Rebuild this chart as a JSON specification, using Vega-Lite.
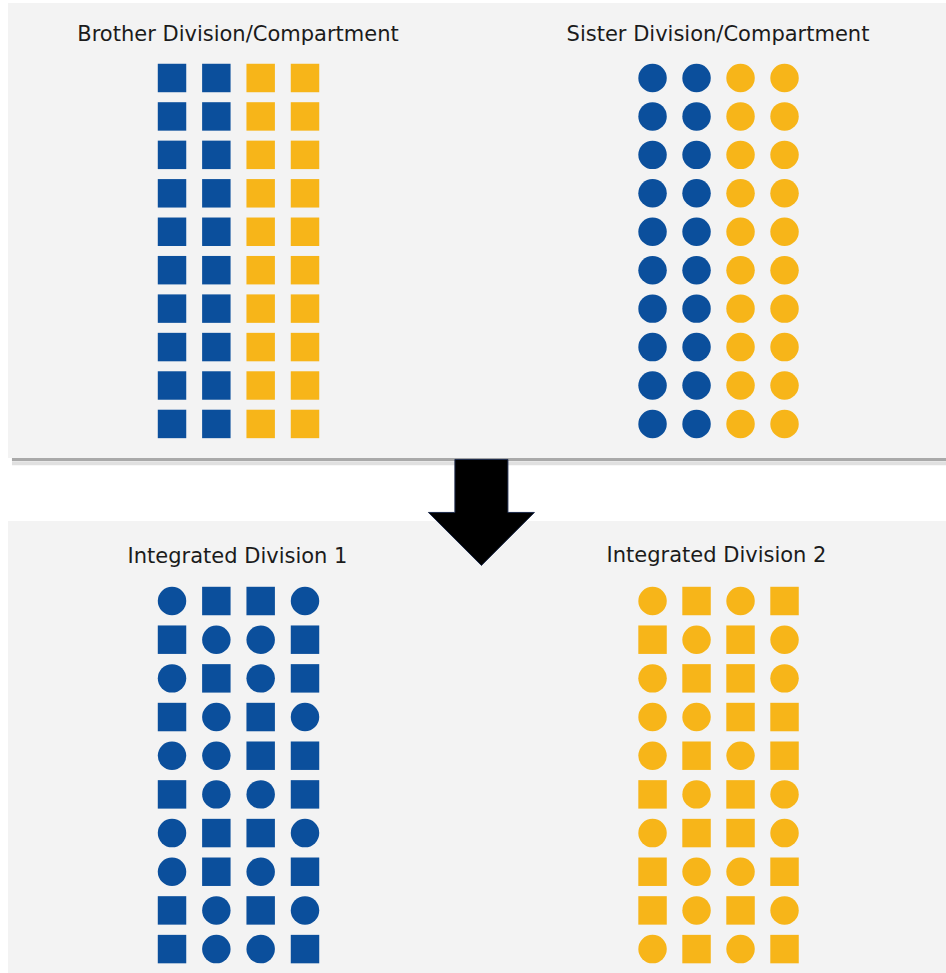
{
  "$schema": "https://vega.github.io/schema/vega-lite/v6.json",
  "background": "white",
  "padding": {"left": 8, "top": 3, "right": 0, "bottom": 0},
  "config": {
    "view": {"stroke": null, "fill": "#f3f3f3"},
    "concat": {"spacing": 0},
    "title": {"font": "DejaVu Sans", "fontSize": 21, "fontWeight": "normal", "color": "#1b1b1b", "anchor": "middle", "frame": "group"}
  },
  "datasets": {
    "grid": [
      {"panel":"B","row":1,"col":1,"shape":"square","color":"blue"},{"panel":"B","row":1,"col":2,"shape":"square","color":"blue"},{"panel":"B","row":1,"col":3,"shape":"square","color":"yellow"},{"panel":"B","row":1,"col":4,"shape":"square","color":"yellow"},
      {"panel":"B","row":2,"col":1,"shape":"square","color":"blue"},{"panel":"B","row":2,"col":2,"shape":"square","color":"blue"},{"panel":"B","row":2,"col":3,"shape":"square","color":"yellow"},{"panel":"B","row":2,"col":4,"shape":"square","color":"yellow"},
      {"panel":"B","row":3,"col":1,"shape":"square","color":"blue"},{"panel":"B","row":3,"col":2,"shape":"square","color":"blue"},{"panel":"B","row":3,"col":3,"shape":"square","color":"yellow"},{"panel":"B","row":3,"col":4,"shape":"square","color":"yellow"},
      {"panel":"B","row":4,"col":1,"shape":"square","color":"blue"},{"panel":"B","row":4,"col":2,"shape":"square","color":"blue"},{"panel":"B","row":4,"col":3,"shape":"square","color":"yellow"},{"panel":"B","row":4,"col":4,"shape":"square","color":"yellow"},
      {"panel":"B","row":5,"col":1,"shape":"square","color":"blue"},{"panel":"B","row":5,"col":2,"shape":"square","color":"blue"},{"panel":"B","row":5,"col":3,"shape":"square","color":"yellow"},{"panel":"B","row":5,"col":4,"shape":"square","color":"yellow"},
      {"panel":"B","row":6,"col":1,"shape":"square","color":"blue"},{"panel":"B","row":6,"col":2,"shape":"square","color":"blue"},{"panel":"B","row":6,"col":3,"shape":"square","color":"yellow"},{"panel":"B","row":6,"col":4,"shape":"square","color":"yellow"},
      {"panel":"B","row":7,"col":1,"shape":"square","color":"blue"},{"panel":"B","row":7,"col":2,"shape":"square","color":"blue"},{"panel":"B","row":7,"col":3,"shape":"square","color":"yellow"},{"panel":"B","row":7,"col":4,"shape":"square","color":"yellow"},
      {"panel":"B","row":8,"col":1,"shape":"square","color":"blue"},{"panel":"B","row":8,"col":2,"shape":"square","color":"blue"},{"panel":"B","row":8,"col":3,"shape":"square","color":"yellow"},{"panel":"B","row":8,"col":4,"shape":"square","color":"yellow"},
      {"panel":"B","row":9,"col":1,"shape":"square","color":"blue"},{"panel":"B","row":9,"col":2,"shape":"square","color":"blue"},{"panel":"B","row":9,"col":3,"shape":"square","color":"yellow"},{"panel":"B","row":9,"col":4,"shape":"square","color":"yellow"},
      {"panel":"B","row":10,"col":1,"shape":"square","color":"blue"},{"panel":"B","row":10,"col":2,"shape":"square","color":"blue"},{"panel":"B","row":10,"col":3,"shape":"square","color":"yellow"},{"panel":"B","row":10,"col":4,"shape":"square","color":"yellow"},

      {"panel":"S","row":1,"col":1,"shape":"circle","color":"blue"},{"panel":"S","row":1,"col":2,"shape":"circle","color":"blue"},{"panel":"S","row":1,"col":3,"shape":"circle","color":"yellow"},{"panel":"S","row":1,"col":4,"shape":"circle","color":"yellow"},
      {"panel":"S","row":2,"col":1,"shape":"circle","color":"blue"},{"panel":"S","row":2,"col":2,"shape":"circle","color":"blue"},{"panel":"S","row":2,"col":3,"shape":"circle","color":"yellow"},{"panel":"S","row":2,"col":4,"shape":"circle","color":"yellow"},
      {"panel":"S","row":3,"col":1,"shape":"circle","color":"blue"},{"panel":"S","row":3,"col":2,"shape":"circle","color":"blue"},{"panel":"S","row":3,"col":3,"shape":"circle","color":"yellow"},{"panel":"S","row":3,"col":4,"shape":"circle","color":"yellow"},
      {"panel":"S","row":4,"col":1,"shape":"circle","color":"blue"},{"panel":"S","row":4,"col":2,"shape":"circle","color":"blue"},{"panel":"S","row":4,"col":3,"shape":"circle","color":"yellow"},{"panel":"S","row":4,"col":4,"shape":"circle","color":"yellow"},
      {"panel":"S","row":5,"col":1,"shape":"circle","color":"blue"},{"panel":"S","row":5,"col":2,"shape":"circle","color":"blue"},{"panel":"S","row":5,"col":3,"shape":"circle","color":"yellow"},{"panel":"S","row":5,"col":4,"shape":"circle","color":"yellow"},
      {"panel":"S","row":6,"col":1,"shape":"circle","color":"blue"},{"panel":"S","row":6,"col":2,"shape":"circle","color":"blue"},{"panel":"S","row":6,"col":3,"shape":"circle","color":"yellow"},{"panel":"S","row":6,"col":4,"shape":"circle","color":"yellow"},
      {"panel":"S","row":7,"col":1,"shape":"circle","color":"blue"},{"panel":"S","row":7,"col":2,"shape":"circle","color":"blue"},{"panel":"S","row":7,"col":3,"shape":"circle","color":"yellow"},{"panel":"S","row":7,"col":4,"shape":"circle","color":"yellow"},
      {"panel":"S","row":8,"col":1,"shape":"circle","color":"blue"},{"panel":"S","row":8,"col":2,"shape":"circle","color":"blue"},{"panel":"S","row":8,"col":3,"shape":"circle","color":"yellow"},{"panel":"S","row":8,"col":4,"shape":"circle","color":"yellow"},
      {"panel":"S","row":9,"col":1,"shape":"circle","color":"blue"},{"panel":"S","row":9,"col":2,"shape":"circle","color":"blue"},{"panel":"S","row":9,"col":3,"shape":"circle","color":"yellow"},{"panel":"S","row":9,"col":4,"shape":"circle","color":"yellow"},
      {"panel":"S","row":10,"col":1,"shape":"circle","color":"blue"},{"panel":"S","row":10,"col":2,"shape":"circle","color":"blue"},{"panel":"S","row":10,"col":3,"shape":"circle","color":"yellow"},{"panel":"S","row":10,"col":4,"shape":"circle","color":"yellow"},

      {"panel":"I1","row":1,"col":1,"shape":"circle","color":"blue"},{"panel":"I1","row":1,"col":2,"shape":"square","color":"blue"},{"panel":"I1","row":1,"col":3,"shape":"square","color":"blue"},{"panel":"I1","row":1,"col":4,"shape":"circle","color":"blue"},
      {"panel":"I1","row":2,"col":1,"shape":"square","color":"blue"},{"panel":"I1","row":2,"col":2,"shape":"circle","color":"blue"},{"panel":"I1","row":2,"col":3,"shape":"circle","color":"blue"},{"panel":"I1","row":2,"col":4,"shape":"square","color":"blue"},
      {"panel":"I1","row":3,"col":1,"shape":"circle","color":"blue"},{"panel":"I1","row":3,"col":2,"shape":"square","color":"blue"},{"panel":"I1","row":3,"col":3,"shape":"circle","color":"blue"},{"panel":"I1","row":3,"col":4,"shape":"square","color":"blue"},
      {"panel":"I1","row":4,"col":1,"shape":"square","color":"blue"},{"panel":"I1","row":4,"col":2,"shape":"circle","color":"blue"},{"panel":"I1","row":4,"col":3,"shape":"square","color":"blue"},{"panel":"I1","row":4,"col":4,"shape":"circle","color":"blue"},
      {"panel":"I1","row":5,"col":1,"shape":"circle","color":"blue"},{"panel":"I1","row":5,"col":2,"shape":"circle","color":"blue"},{"panel":"I1","row":5,"col":3,"shape":"square","color":"blue"},{"panel":"I1","row":5,"col":4,"shape":"square","color":"blue"},
      {"panel":"I1","row":6,"col":1,"shape":"square","color":"blue"},{"panel":"I1","row":6,"col":2,"shape":"circle","color":"blue"},{"panel":"I1","row":6,"col":3,"shape":"circle","color":"blue"},{"panel":"I1","row":6,"col":4,"shape":"square","color":"blue"},
      {"panel":"I1","row":7,"col":1,"shape":"circle","color":"blue"},{"panel":"I1","row":7,"col":2,"shape":"square","color":"blue"},{"panel":"I1","row":7,"col":3,"shape":"square","color":"blue"},{"panel":"I1","row":7,"col":4,"shape":"circle","color":"blue"},
      {"panel":"I1","row":8,"col":1,"shape":"circle","color":"blue"},{"panel":"I1","row":8,"col":2,"shape":"square","color":"blue"},{"panel":"I1","row":8,"col":3,"shape":"circle","color":"blue"},{"panel":"I1","row":8,"col":4,"shape":"square","color":"blue"},
      {"panel":"I1","row":9,"col":1,"shape":"square","color":"blue"},{"panel":"I1","row":9,"col":2,"shape":"circle","color":"blue"},{"panel":"I1","row":9,"col":3,"shape":"square","color":"blue"},{"panel":"I1","row":9,"col":4,"shape":"circle","color":"blue"},
      {"panel":"I1","row":10,"col":1,"shape":"square","color":"blue"},{"panel":"I1","row":10,"col":2,"shape":"circle","color":"blue"},{"panel":"I1","row":10,"col":3,"shape":"circle","color":"blue"},{"panel":"I1","row":10,"col":4,"shape":"square","color":"blue"},

      {"panel":"I2","row":1,"col":1,"shape":"circle","color":"yellow"},{"panel":"I2","row":1,"col":2,"shape":"square","color":"yellow"},{"panel":"I2","row":1,"col":3,"shape":"circle","color":"yellow"},{"panel":"I2","row":1,"col":4,"shape":"square","color":"yellow"},
      {"panel":"I2","row":2,"col":1,"shape":"square","color":"yellow"},{"panel":"I2","row":2,"col":2,"shape":"circle","color":"yellow"},{"panel":"I2","row":2,"col":3,"shape":"square","color":"yellow"},{"panel":"I2","row":2,"col":4,"shape":"circle","color":"yellow"},
      {"panel":"I2","row":3,"col":1,"shape":"circle","color":"yellow"},{"panel":"I2","row":3,"col":2,"shape":"square","color":"yellow"},{"panel":"I2","row":3,"col":3,"shape":"square","color":"yellow"},{"panel":"I2","row":3,"col":4,"shape":"circle","color":"yellow"},
      {"panel":"I2","row":4,"col":1,"shape":"circle","color":"yellow"},{"panel":"I2","row":4,"col":2,"shape":"circle","color":"yellow"},{"panel":"I2","row":4,"col":3,"shape":"square","color":"yellow"},{"panel":"I2","row":4,"col":4,"shape":"square","color":"yellow"},
      {"panel":"I2","row":5,"col":1,"shape":"circle","color":"yellow"},{"panel":"I2","row":5,"col":2,"shape":"square","color":"yellow"},{"panel":"I2","row":5,"col":3,"shape":"circle","color":"yellow"},{"panel":"I2","row":5,"col":4,"shape":"square","color":"yellow"},
      {"panel":"I2","row":6,"col":1,"shape":"square","color":"yellow"},{"panel":"I2","row":6,"col":2,"shape":"circle","color":"yellow"},{"panel":"I2","row":6,"col":3,"shape":"square","color":"yellow"},{"panel":"I2","row":6,"col":4,"shape":"circle","color":"yellow"},
      {"panel":"I2","row":7,"col":1,"shape":"circle","color":"yellow"},{"panel":"I2","row":7,"col":2,"shape":"square","color":"yellow"},{"panel":"I2","row":7,"col":3,"shape":"square","color":"yellow"},{"panel":"I2","row":7,"col":4,"shape":"circle","color":"yellow"},
      {"panel":"I2","row":8,"col":1,"shape":"square","color":"yellow"},{"panel":"I2","row":8,"col":2,"shape":"circle","color":"yellow"},{"panel":"I2","row":8,"col":3,"shape":"circle","color":"yellow"},{"panel":"I2","row":8,"col":4,"shape":"square","color":"yellow"},
      {"panel":"I2","row":9,"col":1,"shape":"square","color":"yellow"},{"panel":"I2","row":9,"col":2,"shape":"circle","color":"yellow"},{"panel":"I2","row":9,"col":3,"shape":"square","color":"yellow"},{"panel":"I2","row":9,"col":4,"shape":"circle","color":"yellow"},
      {"panel":"I2","row":10,"col":1,"shape":"circle","color":"yellow"},{"panel":"I2","row":10,"col":2,"shape":"square","color":"yellow"},{"panel":"I2","row":10,"col":3,"shape":"circle","color":"yellow"},{"panel":"I2","row":10,"col":4,"shape":"square","color":"yellow"}
    ]
  },
  "vconcat": [
    {
      "hconcat": [
        {
          "width": 469, "height": 455,
          "title": {"text": "Brother Division/Compartment", "offset": -42, "dx": -4.5},
          "data": {"name": "grid"},
          "transform": [{"filter": "datum.panel === 'B'"}],
          "mark": {"type": "point", "filled": true, "opacity": 1, "size": 810},
          "encoding": {
            "x": {"field": "col", "type": "quantitative", "scale": {"domain": [-2.7, 7.88], "nice": false, "zero": false}, "axis": null},
            "y": {"field": "row", "type": "quantitative", "scale": {"domain": [-0.951, 10.886], "reverse": true, "nice": false, "zero": false}, "axis": null},
            "shape": {"field": "shape", "type": "nominal", "scale": {"domain": ["circle", "square"], "range": ["circle", "square"]}, "legend": null},
            "color": {"field": "color", "type": "nominal", "scale": {"domain": ["blue", "yellow"], "range": ["#0b4f9c", "#f7b519"]}, "legend": null}
          }
        },
        {
          "width": 469, "height": 455,
          "title": {"text": "Sister Division/Compartment", "offset": -42, "dx": 6.5},
          "data": {"name": "grid"},
          "transform": [{"filter": "datum.panel === 'S'"}],
          "mark": {"type": "point", "filled": true, "opacity": 1, "size": 810},
          "encoding": {
            "x": {"field": "col", "type": "quantitative", "scale": {"domain": [-2.99, 7.67], "nice": false, "zero": false}, "axis": null},
            "y": {"field": "row", "type": "quantitative", "scale": {"domain": [-0.951, 10.886], "reverse": true, "nice": false, "zero": false}, "axis": null},
            "shape": {"field": "shape", "type": "nominal", "scale": {"domain": ["circle", "square"], "range": ["circle", "square"]}, "legend": null},
            "color": {"field": "color", "type": "nominal", "scale": {"domain": ["blue", "yellow"], "range": ["#0b4f9c", "#f7b519"]}, "legend": null}
          }
        }
      ],
      "bounds": "flush",
      "resolve": {"scale": {"x": "independent", "y": "independent"}}
    },
    {
      "hconcat": [
        {
          "width": 469, "height": 454,
          "title": {"text": "Integrated Division 1", "offset": -46, "dx": -5},
          "data": {"name": "grid"},
          "transform": [{"filter": "datum.panel === 'I1'"}],
          "mark": {"type": "point", "filled": true, "opacity": 1, "size": 810},
          "encoding": {
            "x": {"field": "col", "type": "quantitative", "scale": {"domain": [-2.7, 7.88], "nice": false, "zero": false}, "axis": null},
            "y": {"field": "row", "type": "quantitative", "scale": {"domain": [-1.069, 10.67], "reverse": true, "nice": false, "zero": false}, "axis": null},
            "shape": {"field": "shape", "type": "nominal", "scale": {"domain": ["circle", "square"], "range": ["circle", "square"]}, "legend": null},
            "color": {"field": "color", "type": "nominal", "scale": {"domain": ["blue", "yellow"], "range": ["#0b4f9c", "#f7b519"]}, "legend": null}
          }
        },
        {
          "width": 469, "height": 454,
          "title": {"text": "Integrated Division 2", "offset": -109, "dx": 5},
          "layer": [
            {
              "data": {"name": "grid"},
              "transform": [{"filter": "datum.panel === 'I2'"}],
              "mark": {"type": "point", "filled": true, "opacity": 1, "size": 810},
              "encoding": {
                "x": {"field": "col", "type": "quantitative", "scale": {"domain": [-2.99, 7.67], "nice": false, "zero": false}, "axis": null},
                "y": {"field": "row", "type": "quantitative", "scale": {"domain": [-1.069, 10.67], "reverse": true, "nice": false, "zero": false}, "axis": null},
                "shape": {"field": "shape", "type": "nominal", "scale": {"domain": ["circle", "square"], "range": ["circle", "square"]}, "legend": null},
                "color": {"field": "color", "type": "nominal", "scale": {"domain": ["blue", "yellow"], "range": ["#0b4f9c", "#f7b519"]}, "legend": null}
              }
            },
            {
              "data": {"values": [{"edge": "shadow"}]},
              "mark": {"type": "rule", "color": "#e0e0e0", "strokeWidth": 4, "strokeCap": "butt"},
              "encoding": {
                "x": {"datum": -13.56, "type": "quantitative"},
                "x2": {"datum": 7.67},
                "y": {"datum": -2.565, "type": "quantitative"}
              }
            },
            {
              "data": {"values": [{"edge": "shadow"}]},
              "mark": {"type": "rule", "color": "#a9a9a9", "strokeWidth": 3, "strokeCap": "butt"},
              "encoding": {
                "x": {"datum": -13.56, "type": "quantitative"},
                "x2": {"datum": 7.67},
                "y": {"datum": -2.66, "type": "quantitative"}
              }
            },
            {
              "data": {"values": [{"marker": "arrow", "col": -2.89, "row": -1.29}]},
              "mark": {"type": "point", "filled": true, "opacity": 1, "color": "#000000", "stroke": "#1c2a4a", "strokeWidth": 1, "size": 11236, "shape": "M-0.5,-1L0.5,-1L0.5,0L1,0L0,1L-1,0L-0.5,0Z"},
              "encoding": {
                "x": {"field": "col", "type": "quantitative"},
                "y": {"field": "row", "type": "quantitative"}
              }
            }
          ]
        }
      ],
      "bounds": "flush",
      "resolve": {"scale": {"x": "independent", "y": "independent"}}
    }
  ],
  "spacing": -1,
  "resolve": {"scale": {"x": "independent", "y": "independent"}}
}
